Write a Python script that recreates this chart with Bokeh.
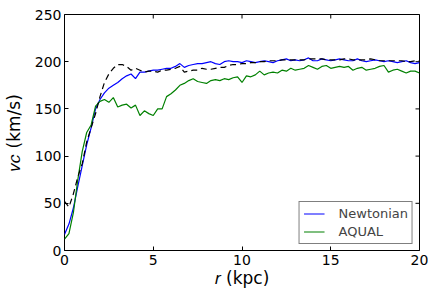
import numpy as np
from bokeh.plotting import figure
from bokeh.models import Range1d, FixedTicker, Legend, LegendItem
from bokeh.embed import file_html
from bokeh.resources import INLINE

r_kpc = [i * 0.25 for i in range(81)]

v_newton = [17, 28, 45, 68, 90, 112, 130, 150, 160, 167, 172, 175, 178, 182, 185, 187,
            182, 189, 189, 190, 191, 191, 192, 193, 193, 195, 198, 194, 196, 197, 198, 198,
            199, 200, 198, 197, 200, 201, 200, 200, 199, 201, 200, 199, 200, 201, 200, 199,
            201, 202, 203, 201, 202, 201, 202, 204, 201, 201, 203, 202, 201, 202, 203, 202,
            201, 201, 203, 201, 200, 201, 202, 201, 200, 201, 200, 199, 200, 201, 199, 198, 199]

v_data = [52, 46, 60, 78, 92, 115, 130, 145, 163, 178, 187, 193, 197, 197, 195, 191,
          193, 191, 189, 190, 190, 189, 191, 191, 192, 193, 195, 189, 190, 191, 191, 193,
          192, 192, 193, 194, 194, 196, 197, 197, 198, 198, 199, 199, 200, 200, 201, 201,
          201, 202, 202, 202, 202, 202, 202, 203, 203, 203, 203, 202, 202, 202, 202, 203,
          203, 202, 202, 202, 202, 203, 202, 201, 201, 201, 201, 201, 201, 200, 200, 201, 201]

v_aqual = [12, 18, 40, 75, 105, 125, 133, 153, 158, 160, 157, 162, 152, 154, 155, 151,
           154, 143, 148, 145, 143, 150, 150, 163, 166, 170, 175, 177, 180, 182, 179, 178,
           177, 180, 181, 180, 182, 181, 183, 184, 178, 185, 184, 186, 190, 186, 188, 189,
           188, 191, 190, 193, 191, 192, 193, 196, 194, 192, 195, 196, 193, 194, 195, 194,
           195, 191, 193, 194, 191, 192, 193, 195, 196, 189, 191, 192, 190, 188, 190, 190, 188]

x_ticks = [0, 5, 10, 15, 20]
y_ticks = [0, 50, 100, 150, 200, 250]
legend_labels = ["Newtonian", "AQUAL"]
x_title = "\U0001D45F (kpc)"
y_title = "\U0001D463\U0001D450 (km/s)"

X0, X1, Y0, Y1 = 0, 20, 0, 250

p = figure(width=428, height=290, output_backend="svg", toolbar_location=None,
           x_range=Range1d(X0, X1), y_range=Range1d(Y0, Y1),
           min_border_left=62, min_border_right=9, min_border_top=14, min_border_bottom=40)
p.background_fill_color = "white"
p.border_fill_color = "white"
p.outline_line_color = "black"
p.outline_line_width = 1
p.xgrid.visible = False
p.ygrid.visible = False

TICK_FONT = "DejaVu Sans"
for ax in (p.xaxis[0], p.yaxis[0]):
    ax.axis_line_color = None
    ax.major_tick_in = 4
    ax.major_tick_out = 0
    ax.minor_tick_in = 0
    ax.minor_tick_out = 0
    ax.major_tick_line_color = "black"
    ax.major_label_text_font = TICK_FONT
    ax.major_label_text_font_size = "14px"
    ax.major_label_text_color = "black"
    ax.axis_label_text_font = TICK_FONT
    ax.axis_label_text_font_size = "17px"
    ax.axis_label_text_font_style = "normal"
    ax.axis_label_text_color = "black"
p.xaxis[0].ticker = FixedTicker(ticks=x_ticks)
p.yaxis[0].ticker = FixedTicker(ticks=y_ticks)
p.xaxis[0].major_label_standoff = 4
p.yaxis[0].major_label_standoff = 3
p.xaxis[0].axis_label = x_title
p.yaxis[0].axis_label = y_title
p.xaxis[0].axis_label_standoff = 0
p.yaxis[0].axis_label_standoff = 8

# inward ticks on the right and top edges (half of each dash is clipped by the frame)
p.scatter([X1] * len(y_ticks), y_ticks, marker="dash", size=8, line_color="black", line_width=1)
p.scatter(x_ticks, [Y1] * len(x_ticks), marker="dash", size=8, angle=np.pi / 2,
          line_color="black", line_width=1)

r_n = p.line(r_kpc, v_newton, line_color="#0000ff", line_width=1.2)
r_a = p.line(r_kpc, v_aqual, line_color="#008000", line_width=1.2)
r_d = p.line(r_kpc, v_data, line_color="black", line_width=1.2, line_dash="6 4")

legend = Legend(items=[LegendItem(label=legend_labels[0], renderers=[r_n]),
                       LegendItem(label=legend_labels[1], renderers=[r_a])],
                location="bottom_right", margin=6, padding=4, spacing=3,
                label_height=15, glyph_height=15, glyph_width=21, label_standoff=14,
                label_text_font=TICK_FONT, label_text_font_size="13px",
                border_line_color="black", border_line_width=1,
                background_fill_color="white", background_fill_alpha=1.0)
p.add_layout(legend, "center")

open("out.html", "w").write(file_html(p, INLINE))
